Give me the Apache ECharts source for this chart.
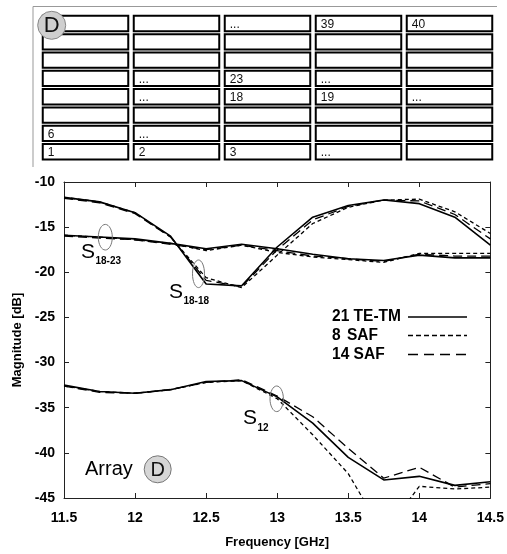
<!DOCTYPE html>
<head>
    <meta charset="utf-8">
    <title>Array D</title>
    <script src="https://cdn.jsdelivr.net/npm/echarts@6/dist/echarts.min.js"></script>
    <style>
        html, body { margin: 0; padding: 0; background: #fff; }
        #main { width: 507px; height: 554px; }
    </style>
</head>

<body>
    <div id="main"></div>
    <script>
        // frequency samples [GHz]
        var freq = [11.5, 11.75, 12, 12.25, 12.5, 12.75, 13, 13.25, 13.5, 13.75, 14, 14.25, 14.5];

        // S18-18
        var s1818_tetm = [-11.7, -12.2, -13.4, -16.0, -21.3, -21.5, -17.2, -13.9, -12.6, -12.0, -12.4, -13.9, -17.0];
        var s1818_saf8 = [-11.7, -12.2, -13.4, -16.1, -20.6, -21.7, -18.1, -14.6, -12.8, -12.0, -11.9, -13.3, -15.7];
        var s1818_saf14 = [-11.8, -12.3, -13.5, -16.1, -20.9, -21.6, -17.5, -14.2, -12.7, -12.0, -12.1, -13.6, -16.3];

        // S18-23
        var s1823_tetm = [-15.9, -16.1, -16.3, -16.8, -17.4, -16.9, -17.4, -18.0, -18.5, -18.7, -18.1, -18.4, -18.4];
        var s1823_saf8 = [-15.9, -16.1, -16.4, -16.8, -17.6, -17.0, -17.8, -18.3, -18.6, -18.9, -17.9, -17.9, -17.9];
        var s1823_saf14 = [-16.0, -16.2, -16.4, -16.9, -17.5, -17.0, -17.6, -18.2, -18.5, -18.8, -18.0, -18.2, -18.2];

        // S12
        var s12_tetm = [-32.5, -33.2, -33.4, -33.0, -32.1, -32.0, -33.8, -36.7, -40.5, -43.0, -42.6, -43.6, -43.2];
        var s12_saf8 = [-32.6, -33.2, -33.4, -33.0, -32.2, -32.0, -34.0, -38.0, -42.3, -49.0, -43.7, -44.0, -43.8];
        var s12_saf14 = [-32.6, -33.3, -33.4, -33.0, -32.2, -31.9, -33.7, -36.0, -39.5, -42.8, -41.6, -43.8, -43.4];

        // array layout (5 columns x 8 rows, row 0 on top)
        var arrCols = ['c1', 'c2', 'c3', 'c4', 'c5'];
        var arrRows = ['r1', 'r2', 'r3', 'r4', 'r5', 'r6', 'r7', 'r8'];
        var arrLabels = [
            [2, 0, '...'], [3, 0, '39'], [4, 0, '40'],
            [1, 3, '...'], [2, 3, '23'], [3, 3, '...'],
            [1, 4, '...'], [2, 4, '18'], [3, 4, '19'], [4, 4, '...'],
            [0, 6, '6'], [1, 6, '...'],
            [0, 7, '1'], [1, 7, '2'], [2, 7, '3'], [3, 7, '...']
        ];

        var legendNames = ['21 TE-TM', '8   SAF', '14 SAF'];

        var cells = [];
        arrRows.forEach(function (r, ri) {
            arrCols.forEach(function (c, ci) {
                var lab = '';
                arrLabels.forEach(function (l) { if (l[0] === ci && l[1] === ri) lab = l[2]; });
                cells.push([ci, ri, lab]);
            });
        });

        function pairs(arr) {
            return freq.map(function (f, i) { return [f, arr[i]]; });
        }

        var styles = [
            { type: 'solid', width: 1.6 },
            { type: [4, 3], width: 1.3 },
            { type: [9, 5], width: 1.3 }
        ];

        function lineSeries(arr, k) {
            return {
                type: 'line',
                name: legendNames[k],
                xAxisIndex: 0,
                yAxisIndex: 0,
                symbol: 'none',
                silent: true,
                clip: true,
                data: pairs(arr),
                lineStyle: { color: '#000', width: styles[k].width, type: styles[k].type },
                z: 3 - k
            };
        }

        var axisCol = '#222';
        var font = 'Arial, "Liberation Sans", sans-serif';

        var chart = echarts.init(document.getElementById('main'));

        var option = {
            animation: false,
            backgroundColor: '#fff',
            grid: [
                { left: 64, right: 15, top: 182, bottom: 56 },
                { left: 40, top: 14.3, width: 455, height: 146.6 }
            ],
            xAxis: [
                {
                    gridIndex: 0, type: 'value', min: 11.5, max: 14.5, interval: 0.5,
                    position: 'bottom',
                    axisLine: { lineStyle: { color: axisCol, width: 1 } },
                    axisTick: { inside: true, length: 5, lineStyle: { color: axisCol } },
                    axisLabel: { color: '#000', fontSize: 14, fontWeight: 'bold', fontFamily: font, margin: 13 },
                    splitLine: { show: false },
                    name: 'Frequency [GHz]', nameLocation: 'middle', nameGap: 38,
                    nameTextStyle: { color: '#000', fontSize: 13, fontWeight: 'bold', fontFamily: font }
                },
                {
                    gridIndex: 0, type: 'value', min: 11.5, max: 14.5, interval: 0.5,
                    position: 'top',
                    axisLine: { lineStyle: { color: axisCol, width: 1 } },
                    axisTick: { inside: true, length: 5, lineStyle: { color: axisCol } },
                    axisLabel: { show: false },
                    splitLine: { show: false }
                },
                {
                    gridIndex: 1, type: 'category', data: arrCols, show: false
                }
            ],
            yAxis: [
                {
                    gridIndex: 0, type: 'value', min: -45, max: -10, interval: 5,
                    position: 'left',
                    axisLine: { show: true, lineStyle: { color: axisCol, width: 1 } },
                    axisTick: { show: true, inside: true, length: 5, lineStyle: { color: axisCol } },
                    axisLabel: { color: '#000', fontSize: 14, fontWeight: 'bold', fontFamily: font, margin: 9 },
                    splitLine: { show: false },
                    name: 'Magnitude [dB]', nameLocation: 'middle', nameGap: 40,
                    nameTextStyle: { color: '#000', fontSize: 13, fontWeight: 'bold', fontFamily: font }
                },
                {
                    gridIndex: 0, type: 'value', min: -45, max: -10, interval: 5,
                    position: 'right',
                    axisLine: { show: true, lineStyle: { color: axisCol, width: 1 } },
                    axisTick: { show: true, inside: true, length: 5, lineStyle: { color: axisCol } },
                    axisLabel: { show: false },
                    splitLine: { show: false }
                },
                {
                    gridIndex: 1, type: 'category', data: arrRows, inverse: true, show: false
                }
            ],
            series: [
                lineSeries(s1818_tetm, 0), lineSeries(s1818_saf8, 1), lineSeries(s1818_saf14, 2),
                lineSeries(s1823_tetm, 0), lineSeries(s1823_saf8, 1), lineSeries(s1823_saf14, 2),
                lineSeries(s12_tetm, 0), lineSeries(s12_saf8, 1), lineSeries(s12_saf14, 2),
                {
                    type: 'custom',
                    xAxisIndex: 2,
                    yAxisIndex: 2,
                    silent: true,
                    data: cells,
                    renderItem: function (params, api) {
                        var c = api.coord([api.value(0), api.value(1)]);
                        var s = api.size([1, 1]);
                        var w = s[0] - 5.5, h = s[1] - 3;
                        var lab = cells[params.dataIndex][2];
                        return {
                            type: 'group',
                            children: [
                                {
                                    type: 'rect',
                                    shape: { x: c[0] - w / 2, y: c[1] - h / 2, width: w, height: h },
                                    style: { fill: '#fff', stroke: '#000', lineWidth: 2 }
                                },
                                {
                                    type: 'text',
                                    style: {
                                        text: lab, x: c[0] - w / 2 + 5, y: c[1] + 1,
                                        verticalAlign: 'middle', fill: '#111',
                                        font: '12px ' + font
                                    }
                                }
                            ]
                        };
                    }
                }
            ],
            graphic: [
                // frame of the array sketch
                { type: 'line', shape: { x1: 33, y1: 6.5, x2: 497, y2: 6.5 }, style: { stroke: '#999', lineWidth: 1 }, z: 50 },
                { type: 'line', shape: { x1: 33, y1: 6.5, x2: 33, y2: 167 }, style: { stroke: '#999', lineWidth: 1 }, z: 50 },
                { type: 'circle', shape: { cx: 51.7, cy: 25.3, r: 14 }, style: { fill: '#cfcfcf', stroke: '#888', lineWidth: 1 }, z: 100 },
                { type: 'text', x: 51.7, y: 26, style: { text: 'D', font: '22px ' + font, fill: '#111', align: 'center', verticalAlign: 'middle' }, z: 101 },

                // legend
                { type: 'text', x: 332, y: 317, scaleX: 0.97, style: { text: '21 TE-TM', font: 'bold 16px ' + font, fill: '#000', verticalAlign: 'middle' }, z: 100 },
                { type: 'text', x: 332, y: 335.5, scaleX: 0.97, style: { text: '8', font: 'bold 16px ' + font, fill: '#000', verticalAlign: 'middle' }, z: 100 },
                { type: 'text', x: 347, y: 335.5, scaleX: 0.97, style: { text: 'SAF', font: 'bold 16px ' + font, fill: '#000', verticalAlign: 'middle' }, z: 100 },
                { type: 'text', x: 332, y: 354.5, scaleX: 0.97, style: { text: '14 SAF', font: 'bold 16px ' + font, fill: '#000', verticalAlign: 'middle' }, z: 100 },
                { type: 'line', shape: { x1: 408, y1: 317, x2: 467, y2: 317 }, style: { stroke: '#000', lineWidth: 1.5 }, z: 100 },
                { type: 'line', shape: { x1: 408, y1: 335.5, x2: 467, y2: 335.5 }, style: { stroke: '#000', lineWidth: 1.3, lineDash: [5, 3] }, z: 100 },
                { type: 'line', shape: { x1: 408, y1: 354.5, x2: 467, y2: 354.5 }, style: { stroke: '#000', lineWidth: 1.3, lineDash: [10, 6] }, z: 100 },

                // S18-23 annotation
                { type: 'ellipse', shape: { cx: 105.3, cy: 237.2, rx: 7, ry: 12.8 }, style: { fill: 'none', stroke: '#777', lineWidth: 1 }, z: 100 },
                { type: 'text', x: 81, y: 263, style: { text: 'S', font: '21px ' + font, fill: '#000', verticalAlign: 'bottom' }, z: 100 },
                { type: 'text', x: 95.5, y: 266, style: { text: '18-23', font: 'bold 10px ' + font, fill: '#000', verticalAlign: 'bottom' }, z: 100 },

                // S18-18 annotation
                { type: 'ellipse', shape: { cx: 198.5, cy: 273.8, rx: 6, ry: 13.8 }, style: { fill: 'none', stroke: '#777', lineWidth: 1 }, z: 100 },
                { type: 'text', x: 169, y: 303, style: { text: 'S', font: '21px ' + font, fill: '#000', verticalAlign: 'bottom' }, z: 100 },
                { type: 'text', x: 183.5, y: 306, style: { text: '18-18', font: 'bold 10px ' + font, fill: '#000', verticalAlign: 'bottom' }, z: 100 },

                // S12 annotation
                { type: 'ellipse', shape: { cx: 276.7, cy: 398.8, rx: 6.7, ry: 12.8 }, style: { fill: 'none', stroke: '#777', lineWidth: 1 }, z: 100 },
                { type: 'text', x: 243, y: 429, style: { text: 'S', font: '21px ' + font, fill: '#000', verticalAlign: 'bottom' }, z: 100 },
                { type: 'text', x: 257.5, y: 433, style: { text: '12', font: 'bold 10px ' + font, fill: '#000', verticalAlign: 'bottom' }, z: 100 },

                // Array D
                { type: 'text', x: 85, y: 479, style: { text: 'Array', font: '20px ' + font, fill: '#000', verticalAlign: 'bottom' }, z: 100 },
                { type: 'circle', shape: { cx: 157.7, cy: 469.3, r: 13.5 }, style: { fill: '#d6d6d6', stroke: '#777', lineWidth: 1 }, z: 100 },
                { type: 'text', x: 157.7, y: 470, style: { text: 'D', font: '20px ' + font, fill: '#111', align: 'center', verticalAlign: 'middle' }, z: 101 }
            ]
        };

        chart.setOption(option);

        window.onresize = function () {
            chart.resize();
        };
    </script>
</body>
